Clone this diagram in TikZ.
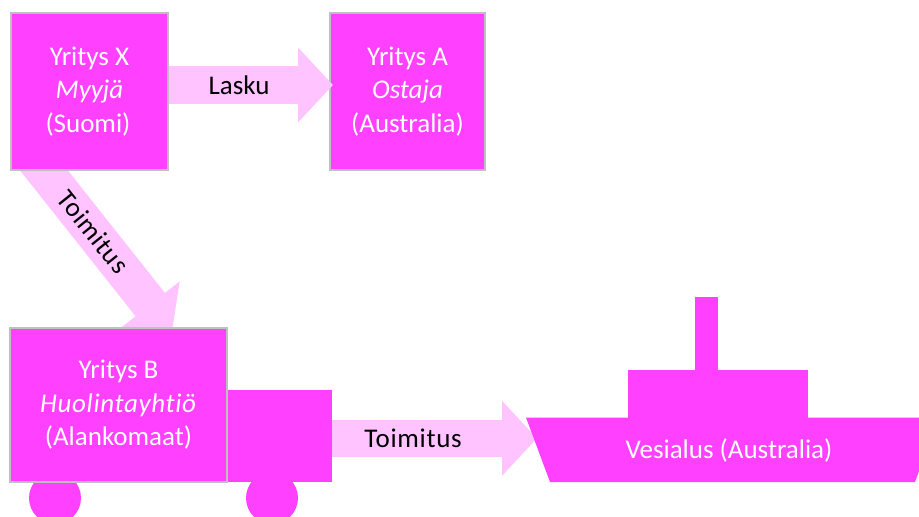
\documentclass[tikz,border=0pt]{standalone}
\usepackage{fontspec}
\setmainfont{Carlito}[Ligatures=NoCommon]
\usetikzlibrary{arrows.meta,calc}
\pgfdeclarelayer{behind}
\pgfsetlayers{behind,main}
\definecolor{magentabox}{HTML}{FF40FF}
\definecolor{palearrow}{HTML}{FFC4FF}
\definecolor{boxedge}{HTML}{BFBFBF}
\tikzset{
  firmbox/.style={draw=boxedge,line width=2pt,fill=magentabox,text=white,align=center,
    inner sep=0pt,outer sep=0pt,font=\fontsize{27}{33.5}\selectfont},
  solidpart/.style={fill=magentabox,draw=none,inner sep=0pt,outer sep=0pt},
  blockarrow/.style={draw=palearrow,line width=37.5pt,
    -{Triangle[length=35pt,width=73pt]}},
  arrowlabel/.style={text=black,inner sep=0pt,font=\fontsize{27}{32}\selectfont},
  spacedlabel/.style={arrowlabel,font=\fontsize{27}{32}\selectfont\addfontfeature{LetterSpace=2.5}},
}
\begin{document}
\begin{tikzpicture}[x=1pt,y=-1pt]
\clip (0,0) rectangle (919,517);
% wheels
\node[solidpart,circle,minimum size=52pt] (wheelL) at (55,498) {};
\node[solidpart,circle,minimum size=52pt] (wheelR) at (272,498) {};
% truck cab
\node[solidpart,minimum width=104pt,minimum height=92pt] (cab) at (280,436) {};
% firms
\node[firmbox,minimum width=157pt,minimum height=157pt] (x) at (89.5,91.5)
  {Yritys X\\\textit{Myyjä}\\(Suomi)\hspace*{3pt}};
\node[firmbox,minimum width=155pt,minimum height=157pt] (a) at (407.5,91.5)
  {Yritys A\\\textit{Ostaja}\\(Australia)};
\node[firmbox,minimum width=217pt,minimum height=154pt] (b) at (118.5,405)
  {Yritys B\\{\addfontfeature{LetterSpace=2.5}\textit{Huolintayhtiö}}\\(Alankomaat)};
% ship
\fill[magentabox] (526,417.5) -- (939,417.5) -- (915,482) -- (550,482) -- cycle;
\node[solidpart,minimum width=180pt,minimum height=48pt] (deck) at (718,394) {};
\node[solidpart,minimum width=23pt,minimum height=74pt] (funnel) at (706.5,334) {};
\node[text=white,inner sep=0pt,font=\fontsize{27}{32}\selectfont] (ship) at (729,450) {Vesialus (Australia)};
% connectors
\coordinate (diagStart) at ($(x.south)+(-64.5,-23.5)$);
\coordinate (diagEnd) at ($(b.north)+(53.5,4)$);
\coordinate (laskuStart) at ($(x.east)+(1,-6.5)$);
\coordinate (laskuEnd) at ($(a.west)+(3,-6.5)$);
\coordinate (toimStart) at (cab.east |- 0,438.3);
\coordinate (toimEnd) at (537,438.3);
\begin{pgfonlayer}{behind}
\draw[blockarrow] (diagStart) -- (diagEnd);
\draw[blockarrow] (toimStart) -- (toimEnd);
\end{pgfonlayer}
\draw[blockarrow] (laskuStart) -- (laskuEnd);
% labels
\node[arrowlabel] (lasku) at (239,85) {Lasku};
\node[spacedlabel] (toimH) at (413,438) {Toimitus};
\node[spacedlabel,rotate=-51.3] (toimD) at (93.5,232) {Toimitus};
\end{tikzpicture}
\end{document}
